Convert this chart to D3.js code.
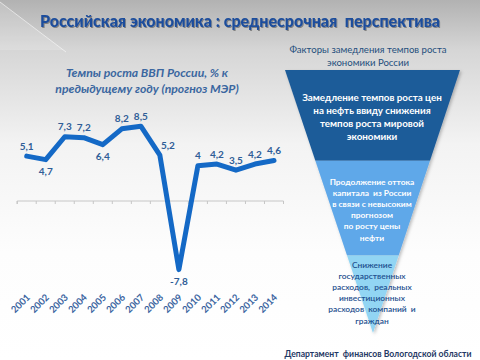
<!DOCTYPE html>
<html><head><meta charset="utf-8">
<script src="https://cdn.jsdelivr.net/npm/d3@7"></script>
<style>html,body{margin:0;padding:0;overflow:hidden;background:#fff}svg{display:block}text{white-space:pre}</style>
</head><body>
<script>
const years = ["2001","2002","2003","2004","2005","2006","2007","2008","2009","2010","2011","2012","2013","2014"];
const growth = [5.1,4.7,7.3,7.2,6.4,8.2,8.5,5.2,-7.8,4,4.2,3.5,4.2,4.6];
const labels = ["5,1","4,7","7,3","7,2","6,4","8,2","8,5","5,2","-7,8","4","4,2","3,5","4,2","4,6"];
const labelBelow = [false,true,false,false,true,false,false,false,true,false,false,false,false,false];
const labelShift = [0,0,0,0,0,0,0,8,0,0,0,0,0,0];
const funnelTexts = [
  ["Замедление темпов роста цен","на нефть ввиду снижения","темпов роста мировой","экономики"],
  ["Продолжение оттока","капитала  из России","в связи с невысоким","прогнозом","по росту цены","нефти"],
  ["Снижение","государственных","расходов,  реальных","инвестиционных","расходов  компаний  и","граждан"]
];
const funnelStops = [0, 0.345, 0.705, 1];
const funnelColors = ["#1e5b99","#5fa8e9","#92d5f3"];
const funnelTextColors = ["#ffffff","#ffffff","#1d4f8e"];

const W=480,H=360;
const svg=d3.select("body").append("svg").attr("width",W).attr("height",H);
const defs=svg.append("defs");
const bg=defs.append("linearGradient").attr("id","bg").attr("x1",0).attr("y1",0).attr("x2",0).attr("y2",1);
[[0,"#b2b2b2"],[0.14,"#d6d6d6"],[0.4,"#f3f3f3"],[0.7,"#fdfdfd"],[1,"#ffffff"]].forEach(s=>bg.append("stop").attr("offset",s[0]).attr("stop-color",s[1]));
svg.append("rect").attr("width",W).attr("height",H).attr("fill","url(#bg)");
svg.append("polygon").attr("points","0,2 63,50 0,50").attr("fill","#ffffff").attr("opacity",0.18);
svg.append("line").attr("x1",0).attr("y1",2).attr("x2",66).attr("y2",52).attr("stroke","#ffffff").attr("stroke-width",0.8).attr("opacity",0.7);

const sh=defs.append("filter").attr("id","tsh").attr("x","-10%").attr("y","-30%").attr("width","120%").attr("height","160%");
sh.append("feDropShadow").attr("dx",1).attr("dy",1).attr("stdDeviation",0.6).attr("flood-color","#000").attr("flood-opacity",0.35);

svg.append("text").attr("x",240).attr("y",26.5).attr("text-anchor","middle")
  .attr("font-family","Lato, 'Open Sans', sans-serif").attr("font-weight","900").attr("font-size",16)
  .attr("fill","#1f4e9c").attr("filter","url(#tsh)").text("Российская экономика : среднесрочная  перспектива");

const ct=svg.append("text").attr("text-anchor","middle").attr("font-family","Lato, 'Open Sans', sans-serif")
  .attr("font-weight","bold").attr("font-style","italic").attr("font-size",12.2).attr("fill","#3b67a0");
ct.append("tspan").attr("x",147).attr("y",77).text("Темпы роста ВВП России, % к");
ct.append("tspan").attr("x",147).attr("y",93).text("предыдущему году (прогноз МЭР)");

const x=d3.scaleBand().domain(years).range([17.2,283.5]);
const y=d3.scaleLinear().domain([-7.8,8.5]).range([201+7.8*8.8,201-8.5*8.8]);
const cx=d=>x(d)+x.bandwidth()/2;

const ag=svg.append("g").attr("transform",`translate(0,${y(0)})`);
ag.append("path").attr("d",`M${x.range()[0]},3V0H${x.range()[1]}V3`).attr("fill","none").attr("stroke","#c6c6c6");
ag.selectAll("line").data(years).join("line")
  .attr("x1",d=>x(d)).attr("x2",d=>x(d)).attr("y1",0).attr("y2",3).attr("stroke","#c6c6c6");

const line=d3.line().x((d,i)=>cx(years[i])).y(d=>y(d));
svg.append("path").datum(growth).attr("d",line).attr("fill","none").attr("stroke","#1469c6")
  .attr("stroke-width",5).attr("stroke-linejoin","round").attr("stroke-linecap","round");

svg.append("g").selectAll("text").data(growth).join("text")
  .attr("x",(d,i)=>cx(years[i])+labelShift[i]).attr("y",(d,i)=>labelBelow[i]? y(d)+15.5 : y(d)-6.5)
  .attr("text-anchor","middle").attr("font-family","Lato, 'Open Sans', sans-serif").attr("font-weight","bold")
  .attr("font-size",10).attr("fill","#2f5d97").text((d,i)=>labels[i]);

svg.append("g").selectAll("text").data(years).join("text")
  .attr("transform",d=>`translate(${cx(d)+4},${298}) rotate(-45)`)
  .attr("text-anchor","end").attr("font-family","Lato, 'Open Sans', sans-serif").attr("font-weight","bold")
  .attr("font-size",9.5).attr("fill","#3a64a0").text(d=>d);

const rt=svg.append("text").attr("text-anchor","middle").attr("font-family","Lato, 'Open Sans', sans-serif")
  .attr("font-size",9.6).attr("fill","#1f4e7c");
rt.append("tspan").attr("x",368).attr("y",52.5).text("Факторы замедления темпов роста");
rt.append("tspan").attr("x",368).attr("y",66).text("экономики России");

const fTop=70,fBot=333,fL=285,fR=460,fA=373;
const fy=d3.scaleLinear().domain([0,1]).range([fTop,fBot]);
const lx=t=>fL+(fA-fL)*t, rx=t=>fR+(fA-fR)*t;
const fsh=defs.append("filter").attr("id","fsh").attr("x","-20%").attr("y","-10%").attr("width","140%").attr("height","120%");
fsh.append("feDropShadow").attr("dx",1.5).attr("dy",1.5).attr("stdDeviation",1.5).attr("flood-color","#000").attr("flood-opacity",0.25);
const fg=svg.append("g").attr("filter","url(#fsh)");
for(let k=0;k<3;k++){
  const t0=funnelStops[k],t1=funnelStops[k+1];
  const pts=[[lx(t0),fy(t0)],[rx(t0),fy(t0)],[rx(t1),fy(t1)],[lx(t1),fy(t1)]];
  fg.append("polygon").attr("points",pts.map(p=>p.join(",")).join(" ")).attr("fill",funnelColors[k]);
}
const textCfg=[
  {y0:100.5,dy:13.2,size:9.8,weight:"bold"},
  {y0:185,dy:11.1,size:8.4,weight:"bold"},
  {y0:268,dy:11.1,size:8.4,weight:"600"}
];
funnelTexts.forEach((lines,k)=>{
  const c=textCfg[k];
  const tx=svg.append("text").attr("text-anchor","middle").attr("font-family","Lato, 'Open Sans', sans-serif")
    .attr("font-size",c.size).attr("font-weight",c.weight).attr("fill",funnelTextColors[k]);
  lines.forEach((l,i)=>tx.append("tspan").attr("x",372).attr("y",c.y0+i*c.dy).text(l));
});

svg.append("text").attr("x",378).attr("y",356.5).attr("text-anchor","middle")
  .attr("font-family","Lato, 'Open Sans', sans-serif").attr("font-weight","bold").attr("font-size",8.6)
  .attr("fill","#1f3864").text("Департамент  финансов Вологодской области");
</script>
</body></html>
